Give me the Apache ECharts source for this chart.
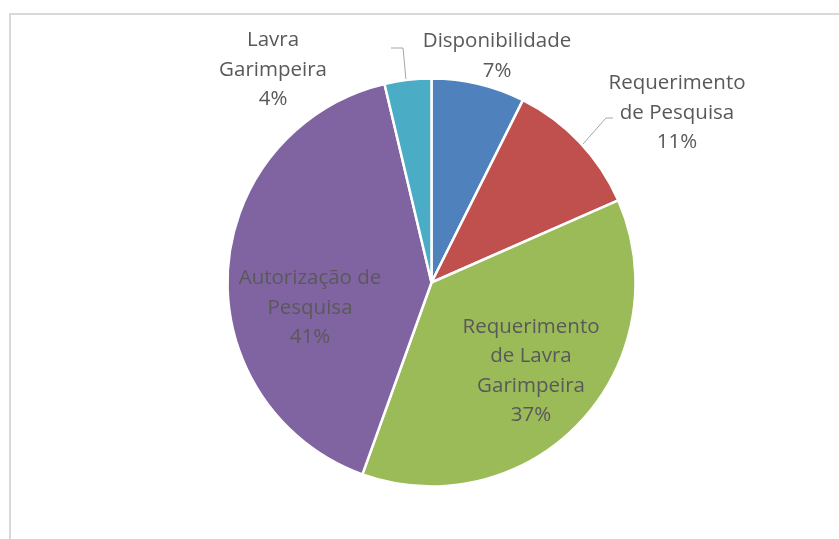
<!DOCTYPE html>
<html>
<head>
<meta charset="utf-8">
<script src="https://cdn.jsdelivr.net/npm/echarts@6/dist/echarts.min.js"></script>
<style>
  html, body { margin: 0; padding: 0; background: #fff; }
  #main { width: 839px; height: 539px; }
</style>
</head>
<body>
<div id="main"></div>
<script>
// categorias (quebras de linha como no gráfico original)
const categories = [
    'Disponibilidade',
    'Requerimento\nde Pesquisa',
    'Requerimento\nde Lavra\nGarimpeira',
    'Autorização de\nPesquisa',
    'Lavra\nGarimpeira'
];
const values = [7.4, 11.0, 37.1, 40.8, 3.7];
const colors = ['#4F81BD', '#C0504D', '#9BBB59', '#8064A2', '#4BACC6'];

// onde fica cada rótulo (centro do bloco de texto) e a linha de chamada
const labelSpots = [
    { x: 497, y: 56 },
    { x: 677, y: 113, line: [[583, 144], [606, 118], [613, 118]] },
    { x: 531, y: 371 },
    { x: 310, y: 308 },
    { x: 273, y: 70, line: [[406, 80], [403, 48], [391, 48]] }
];

const chart = echarts.init(document.getElementById('main'));

chart.setOption({
    animation: false,
    graphic: [{
        type: 'rect',
        shape: { x: 10, y: 14, width: 900, height: 600 },
        style: { fill: 'none', stroke: '#d9d9d9', lineWidth: 2 },
        silent: true
    }],
    series: [{
        type: 'pie',
        center: [431.5, 282.5],
        radius: 204,
        startAngle: 90,
        clockwise: true,
        itemStyle: { borderColor: '#fff', borderWidth: 2.5 },
        emphasis: { disabled: true },
        label: {
            fontFamily: 'Open Sans',
            fontSize: 20.5,
            lineHeight: 29.5,
            color: '#595959',
            align: 'center',
            formatter: (p) => p.name + '\n' + Math.round(p.percent) + '%'
        },
        labelLine: {
            show: true,
            lineStyle: { color: '#a6a6a6', width: 1 }
        },
        labelLayout: (params) => {
            const spot = labelSpots[params.dataIndex];
            const out = { x: spot.x, y: spot.y, align: 'center', verticalAlign: 'middle' };
            if (spot.line) out.labelLinePoints = spot.line;
            return out;
        },
        data: values.map((v, i) => ({
            name: categories[i],
            value: v,
            itemStyle: { color: colors[i] },
            labelLine: { show: !!labelSpots[i].line }
        }))
    }]
});
</script>
</body>
</html>
